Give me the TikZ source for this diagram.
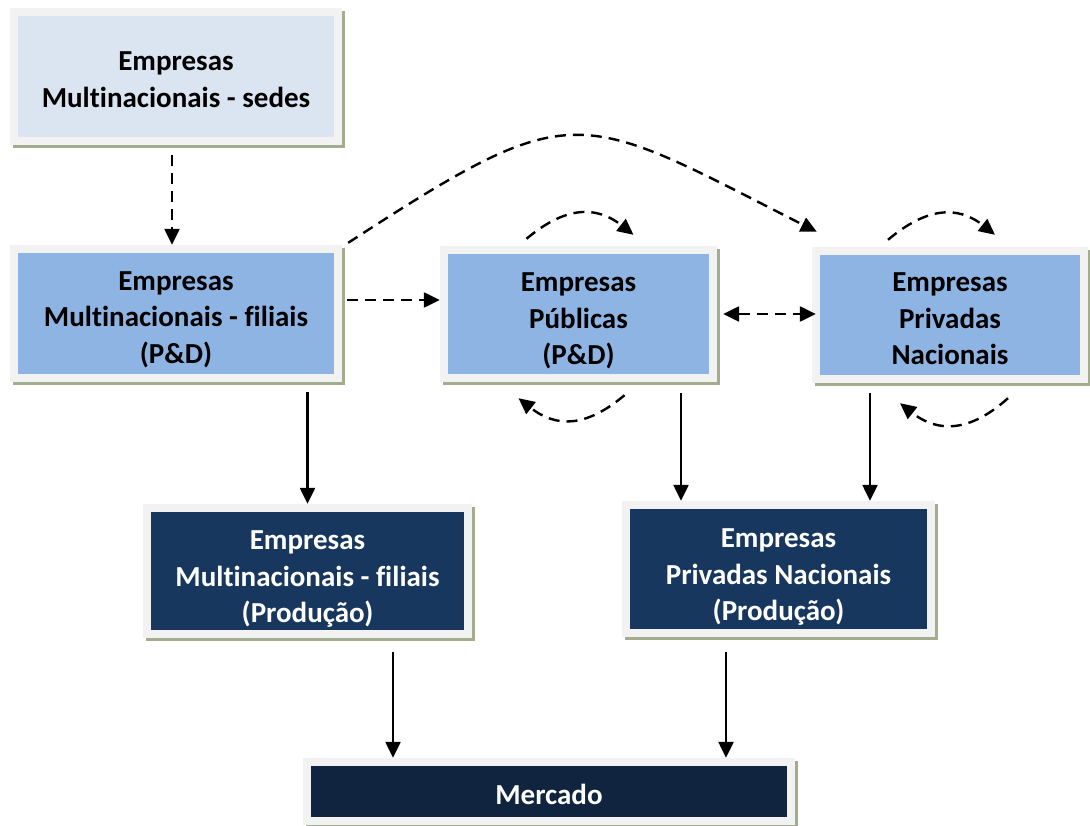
\documentclass[tikz,border=0pt]{standalone}
\usepackage{fontspec}
\setmainfont{Carlito}[Ligatures=NoCommon]
\usetikzlibrary{arrows.meta,shadows}

\definecolor{framec}{HTML}{F2F2F2}
\definecolor{shadowc}{HTML}{A3AC8C}
\definecolor{paleblue}{HTML}{DBE5F1}
\definecolor{midblue}{HTML}{8DB4E2}
\definecolor{darkblue}{HTML}{17375E}
\definecolor{nightblue}{HTML}{10243F}

% invisible strut that sets the height of a first text line
\newcommand\firstline[1]{\rule{0pt}{#1pt}}

\tikzset{
  box/.style={rectangle, fill=framec, inner sep=0pt, align=center,
    font=\bfseries\fontsize{29}{36.5}\selectfont,
    drop shadow={shadow xshift=3pt, shadow yshift=-3pt, fill=shadowc, opacity=1},
    path picture={\fill[#1] ([shift={(8pt,-8pt)}]path picture bounding box.north west)
      rectangle ([shift={(-8pt,8pt)}]path picture bounding box.south east);}},
  tip/.style={-{Triangle[length=16pt,width=15pt]}},
  flow/.style={line width=2.4pt, tip},
  dflow/.style={flow, dash pattern=on 11pt off 7pt}
}

\begin{document}
\begin{tikzpicture}[x=1pt, y=-1pt]
\useasboundingbox (0,0) rectangle (1090,826);

% research and development level
\node[box=paleblue, minimum width=332pt, minimum height=137pt] (sedes) at (176,76.5)
  {\firstline{25}Empresas\\Multinacionais - sedes};
\node[box=midblue, minimum width=332pt, minimum height=137pt] (filp) at (176,313.5)
  {\firstline{31}Empresas\\Multinacionais - filiais\\(P\&D)};
\node[box=midblue, minimum width=277pt, minimum height=136pt] (pub) at (578.5,314)
  {\firstline{33}Empresas\\Públicas\\(P\&D)};
\node[box=midblue, minimum width=276pt, minimum height=136pt] (priv) at (950,315)
  {\firstline{27}Empresas\\Privadas\\Nacionais};

% production level
\node[box=darkblue, text=white, minimum width=329pt, minimum height=134pt] (filprod) at (307.5,571)
  {\firstline{35}Empresas\\Multinacionais - filiais\\(Produção)};
\node[box=darkblue, text=white, minimum width=313pt, minimum height=136pt] (privprod) at (778.5,569)
  {\firstline{35}Empresas\\Privadas Nacionais\\(Produção)};

% market
\node[box=nightblue, text=white, minimum width=492pt, minimum height=67pt] (merc) at (549,791.5)
  {\firstline{27}Mercado};

% knowledge flows (dashed)
\draw[dflow, shorten <=10pt] ([xshift=-4pt]sedes.south) -- ([xshift=-4pt]filp.north);
\draw[dflow, shorten <=5pt] ([yshift=13.5pt]filp.east) -- ([yshift=13.5pt]filp.east -| pub.west);
\draw[dflow, {Triangle[length=16pt,width=15pt]}-{Triangle[length=16pt,width=15pt]}]
  ([xshift=6pt]pub.east) -- ([xshift=4pt]pub.east -| priv.west);
\draw[dflow] ([shift={(6pt,2pt)}]filp.north east)
  .. controls +(228,-148) and +(-242,-123) .. ([shift={(5pt,15pt)}]priv.north west);

% self loops
\draw[dflow] ([shift={(-52pt,7pt)}]pub.north)
  .. controls +(38,-32) and +(-38,-30) .. ([shift={(55pt,11pt)}]pub.north);
\draw[dflow] ([shift={(46pt,-13pt)}]pub.south)
  .. controls +(-38,32) and +(38,30) .. ([shift={(-60pt,-16pt)}]pub.south);
\draw[dflow] ([shift={(-62pt,7pt)}]priv.north)
  .. controls +(38,-32) and +(-38,-30) .. ([shift={(45pt,12pt)}]priv.north);
\draw[dflow] ([shift={(58pt,-15pt)}]priv.south)
  .. controls +(-38,34) and +(38,30) .. ([shift={(-50pt,-20pt)}]priv.south);

% production flows (solid)
\draw[flow, shorten <=10pt] (filp.south -| filprod.north) -- (filprod.north);
\draw[flow, shorten <=11pt] ([xshift=102.5pt]pub.south) -- ([xshift=102.5pt]pub.south |- privprod.north);
\draw[flow, shorten <=10pt] ([xshift=-80pt]priv.south) -- ([xshift=-80pt]priv.south |- privprod.north);
\draw[flow, shorten <=14pt] ([xshift=85.5pt]filprod.south) -- ([xshift=85.5pt]filprod.south |- merc.north);
\draw[flow, shorten <=15pt] ([xshift=-52.5pt]privprod.south) -- ([xshift=-52.5pt]privprod.south |- merc.north);
\end{tikzpicture}
\end{document}
